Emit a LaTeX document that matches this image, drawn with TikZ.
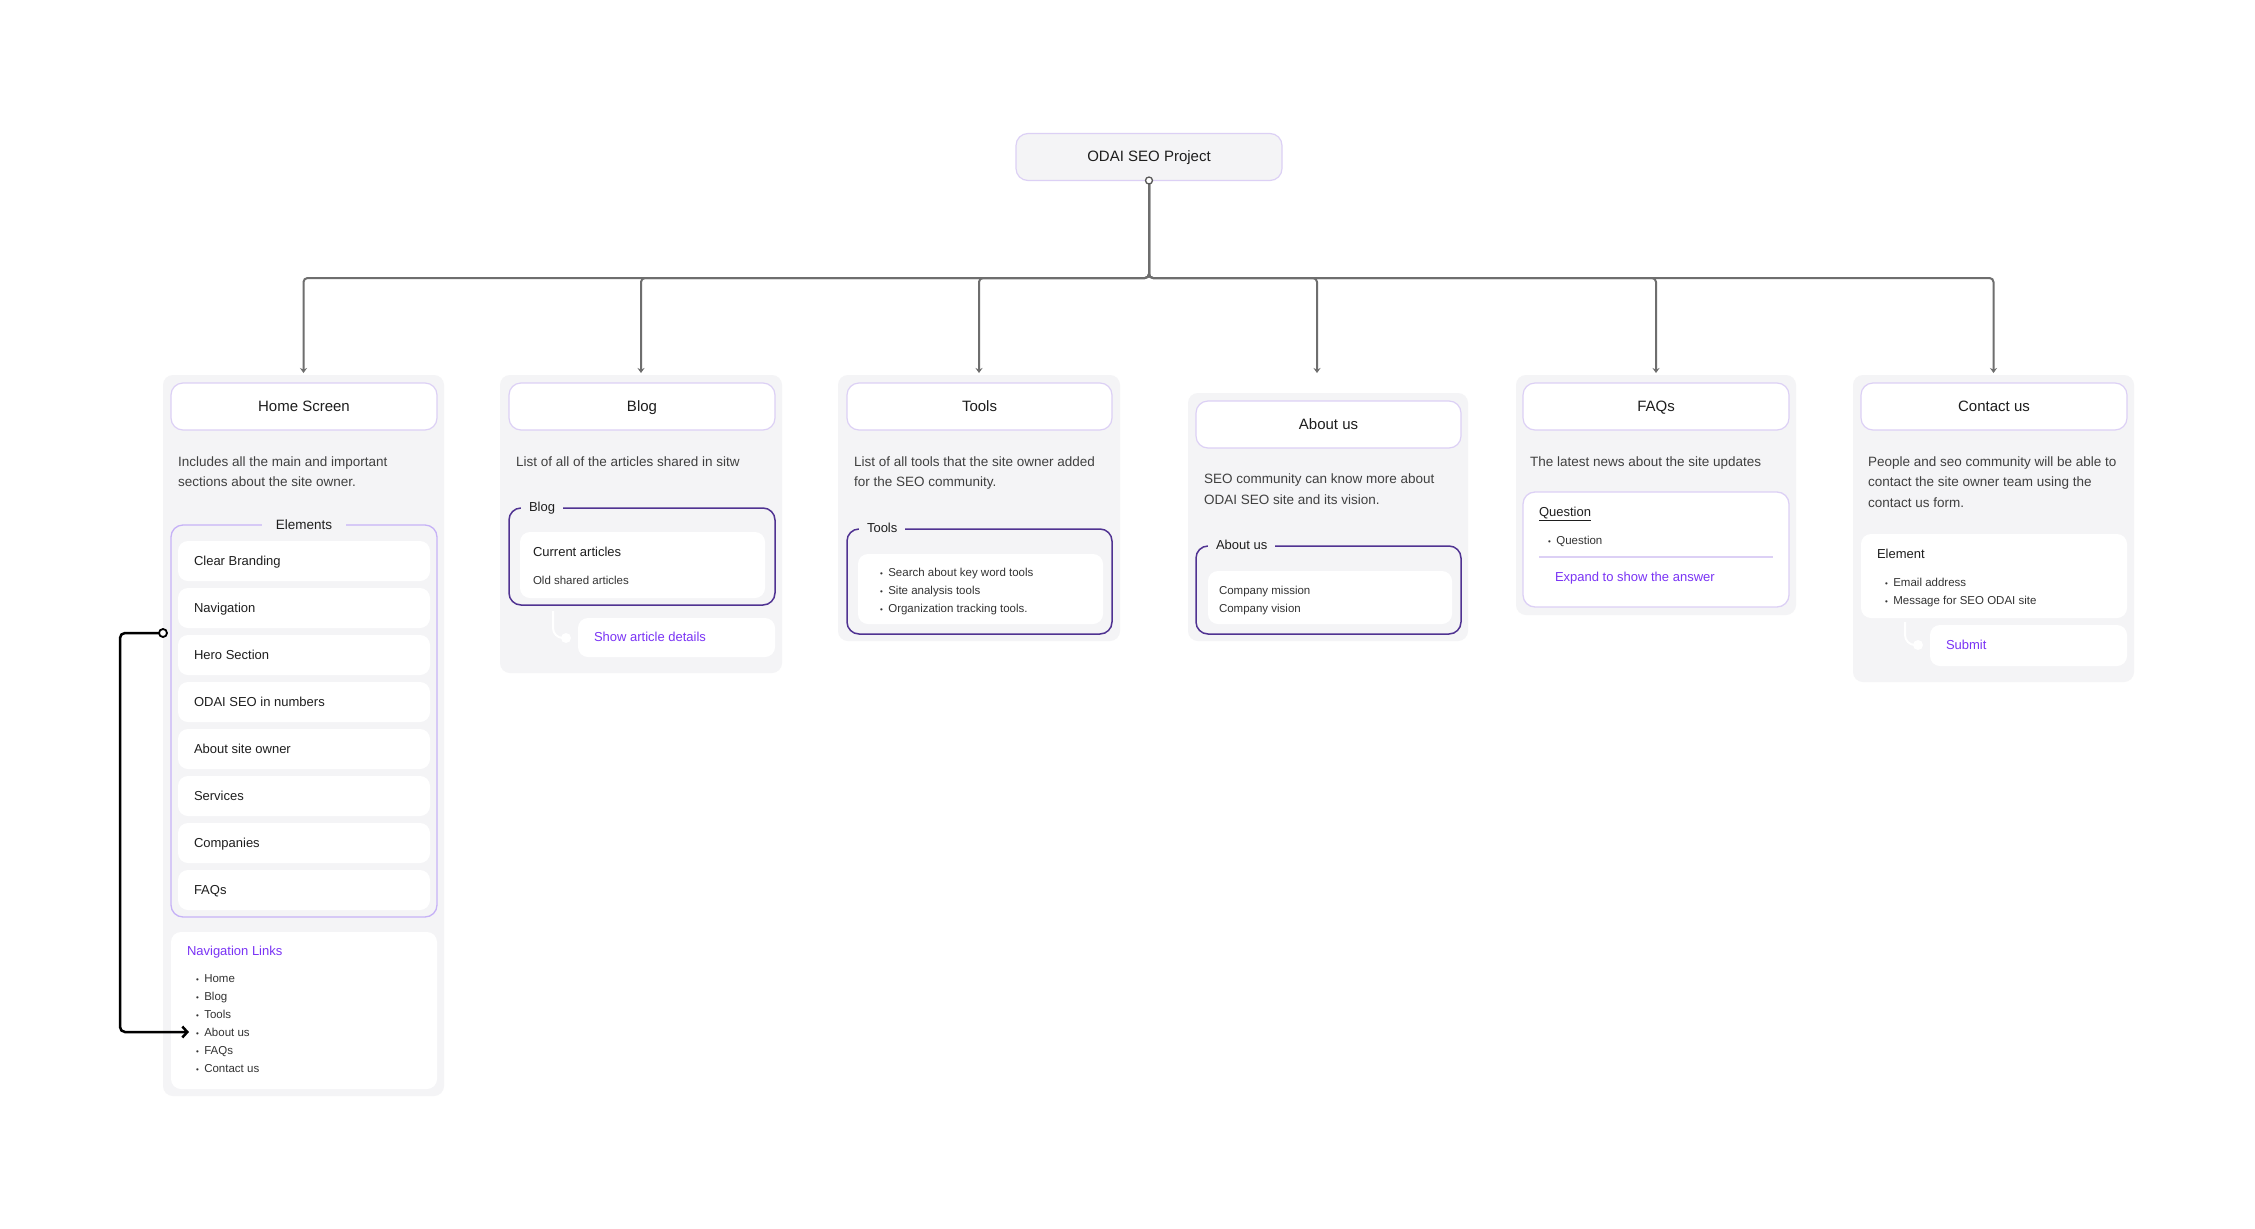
\documentclass[tikz,border=0pt]{standalone}
\usepackage{fontspec}
\setmainfont{Liberation Sans}
\usetikzlibrary{arrows.meta}
\definecolor{cardbg}{HTML}{F4F4F6}
\definecolor{hdrb}{HTML}{DCD0F5}
\definecolor{elemb}{HTML}{C6B2F6}
\definecolor{grpb}{HTML}{503392}
\definecolor{conng}{HTML}{6E6E6E}
\definecolor{ink}{HTML}{1E1E1E}
\definecolor{desc}{HTML}{404040}
\definecolor{smallc}{HTML}{333333}
\definecolor{purp}{HTML}{7A33F5}
\newcommand\myfs[1]{\fontsize{#1}{#1}\selectfont}
\newcommand\bul{{\myfs{8}\textbullet}\hspace{5.5pt}}
\newcommand\rbox[6]{\node[#1, minimum width=#4-#2, minimum height=#5-#3, anchor=north west] (#6) at (#2,#3) {};}
\begin{document}
\begin{tikzpicture}[x=1pt,y=-1pt,
  every node/.style={inner sep=0pt, outer sep=0pt},
  card/.style={fill=cardbg, rounded corners=10pt},
  hdr/.style={fill=white, draw=hdrb, line width=1.2pt, rounded corners=12pt, font=\myfs{15}, text=ink, text height=10.8pt, text depth=1pt},
  wbox/.style={fill=white, rounded corners=10pt},
  elem/.style={draw=elemb, line width=1.3pt, rounded corners=12pt},
  grp/.style={draw=grpb, line width=1.5pt, rounded corners=12pt},
  qbox/.style={fill=white, draw=hdrb, line width=1.3pt, rounded corners=12pt},
  conn/.style={draw=conng, line width=2pt, rounded corners=4pt, -{Stealth[length=5pt,width=7pt]}},
  wline/.style={draw=white, line width=2pt, rounded corners=10pt},
  wdot/.style={circle, fill=white, minimum size=10pt},
  dtxt/.style={font=\myfs{13.5}, text=desc, anchor=west, text height=10pt, text depth=3pt, yshift=-1.2pt},
  itxt/.style={font=\myfs{13}, text=ink, anchor=west, text height=9.6pt, text depth=2.8pt, yshift=-1.2pt},
  stxt/.style={font=\myfs{11.5}, text=smallc, anchor=west, text height=8.5pt, text depth=2.5pt, yshift=-1pt},
  ptxt/.style={font=\myfs{13}, text=purp, anchor=west, text height=9.6pt, text depth=2.8pt, yshift=-1.2pt},
  glab/.style={font=\myfs{13}, text=ink, fill=cardbg, inner xsep=8pt, inner ysep=3pt, anchor=west, text height=9.6pt, text depth=2.8pt}
]
\fill[white] (0,0) rectangle (2255,1229);
\useasboundingbox (0,0) rectangle (2255,1229);

% ---------- cards ----------
\rbox{card}{163}{375}{444}{1096}{hc}
\rbox{card}{500}{375}{782}{673}{bc}
\rbox{card}{838}{375}{1120}{641}{tc}
\rbox{card}{1188}{393}{1468}{641}{ac}
\rbox{card}{1516}{375}{1796}{615}{fc}
\rbox{card}{1853}{375}{2134}{682}{kc}

% ---------- root and top connectors ----------
\node[hdr, fill=cardbg, minimum width=266, minimum height=47] (root) at (1149,157) {ODAI SEO Project};
\coordinate (bus) at (1149,278);
\foreach \c/\dx/\dy in {hc/0/2, bc/0/2, tc/0/2, ac/-11/20, fc/0/2, kc/0/2}
  \draw[conn] (root.south) -- (bus) -| ([xshift=\dx pt, yshift=\dy pt]\c.north);
\node[circle, draw=conng!80!black, fill=white, line width=1.3pt, minimum size=7pt] (rdot) at (root.south) {};

% ---------- Home Screen ----------
\node[hdr, minimum width=266, minimum height=47, anchor=north west] (hh) at (171,383) {Home Screen};
\node[dtxt] (hd1) at (178,462) {Includes all the main and important};
\node[dtxt] (hd2) at (178,482) {sections about the site owner.};
\rbox{elem}{171}{525}{437}{917}{he}
\node[font=\myfs{13.5}, text=ink, fill=cardbg, inner xsep=14pt, inner ysep=3pt, text height=10pt, text depth=2pt] (helab) at (304,525) {Elements};
\foreach \t [count=\i] in {Clear Branding, Navigation, Hero Section, ODAI SEO in numbers, About site owner, Services, Companies, FAQs} {
  \node[wbox, minimum width=252, minimum height=40] (hi\i) at (304,{561+47*(\i-1)}) {};
  \node[itxt] (ht\i) at (194,{561+47*(\i-1)}) {\t};
}
\rbox{wbox}{171}{932}{437}{1089}{hn}
\node[ptxt] (hnt) at (187,951) {Navigation Links};
\foreach \t [count=\i] in {Home, Blog, Tools, About us, FAQs, Contact us}
  \node[stxt] (nl\i) at (196,{978+18*(\i-1)}) {\bul\t};
\node[circle, draw=black, fill=white, line width=1.8pt, minimum size=8pt] (navdot) at (163,633) {};
\coordinate (navtip) at (189,1032);
\draw[black, line width=2.5pt, rounded corners=5pt, -{Straight Barb[length=5pt,width=11pt]}] (navdot.west) -- ++(-39,0) |- (navtip);

% ---------- Blog ----------
\node[hdr, minimum width=266, minimum height=47, anchor=north west] (bh) at (509,383) {Blog};
\node[dtxt] (bd1) at (516,462) {List of all of the articles shared in sitw};
\rbox{grp}{509}{508}{775}{605}{bg}
\node[glab] (bglab) at (521,508) {Blog};
\rbox{wbox}{520}{532}{765}{598}{bi}
\node[itxt] (bt1) at (533,552) {Current articles};
\node[stxt] (bt2) at (533,580) {Old shared articles};
\rbox{wbox}{578}{618}{775}{657}{bs}
\node[ptxt] (bst) at (594,637) {Show article details};
\node[wdot] (bdot) at (566,638) {};
\coordinate (bstart) at (553,611);
\draw[wline] (bstart) |- (bdot);

% ---------- Tools ----------
\node[hdr, minimum width=265, minimum height=47, anchor=north west] (th) at (847,383) {Tools};
\node[dtxt] (td1) at (854,462) {List of all tools that the site owner added};
\node[dtxt] (td2) at (854,482) {for the SEO community.};
\rbox{grp}{847}{529}{1112}{634}{tg}
\node[glab] (tglab) at (859,529) {Tools};
\rbox{wbox}{858}{554}{1103}{624}{ti}
\node[stxt] (tt1) at (880,572) {\bul Search about key word tools};
\node[stxt] (tt2) at (880,590) {\bul Site analysis tools};
\node[stxt] (tt3) at (880,608) {\bul Organization tracking tools.};

% ---------- About us ----------
\node[hdr, minimum width=265, minimum height=47, anchor=north west] (ah) at (1196,401) {About us};
\node[dtxt] (ad1) at (1204,479) {SEO community can know more about};
\node[dtxt] (ad2) at (1204,500) {ODAI SEO site and its vision.};
\rbox{grp}{1196}{546}{1461}{634}{ag}
\node[glab] (aglab) at (1208,546) {About us};
\rbox{wbox}{1208}{571}{1452}{624}{ai}
\node[stxt] (at1) at (1219,590) {Company mission};
\node[stxt] (at2) at (1219,608) {Company vision};

% ---------- FAQs ----------
\node[hdr, minimum width=266, minimum height=47, anchor=north west] (fh) at (1523,383) {FAQs};
\node[dtxt] (fd1) at (1530,462) {The latest news about the site updates};
\rbox{qbox}{1523}{492}{1789}{607}{fq}
\node[itxt] (fq1) at (1539,512) {\underline{Question}};
\node[stxt] (fq2) at (1548,540) {\bul Question};
\draw[hdrb, line width=1.2pt] (1539,557) -- (1773,557);
\node[ptxt] (fq3) at (1555,577) {Expand to show the answer};

% ---------- Contact us ----------
\node[hdr, minimum width=266, minimum height=47, anchor=north west] (kh) at (1861,383) {Contact us};
\node[dtxt] (kd1) at (1868,462) {People and seo community will be able to};
\node[dtxt] (kd2) at (1868,482) {contact the site owner team using the};
\node[dtxt] (kd3) at (1868,503) {contact us form.};
\rbox{wbox}{1861}{534}{2127}{618}{ke}
\node[itxt] (kt1) at (1877,554) {Element};
\node[stxt] (kt2) at (1885,582) {\bul Email address};
\node[stxt] (kt3) at (1885,600) {\bul Message for SEO ODAI site};
\rbox{wbox}{1930}{625}{2127}{666}{ks}
\node[ptxt] (kst) at (1946,645) {Submit};
\node[wdot] (kdot) at (1918,645) {};
\coordinate (kstart) at (1905,622);
\draw[wline] (kstart) |- (kdot);
\end{tikzpicture}
\end{document}
